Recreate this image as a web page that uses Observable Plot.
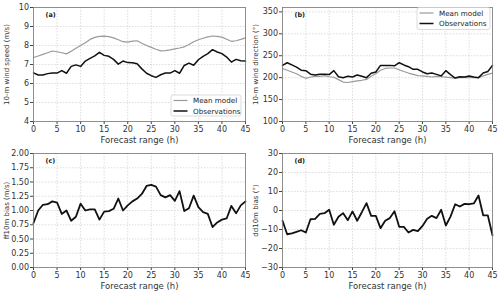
<!DOCTYPE html>
<html>
<head>
<meta charset="utf-8">
<script src="https://cdn.jsdelivr.net/npm/d3@7"></script>
<script src="https://cdn.jsdelivr.net/npm/@observablehq/plot@0.6"></script>
<style>
  body { margin: 0; background: white; }
  #grid { display: flex; flex-wrap: wrap; width: 500px; }
  #grid svg { display: block; }
</style>
</head>
<body>
<div id="grid"></div>
<script>
const hours = d3.range(0, 46);
const xTicks = [0, 5, 10, 15, 20, 25, 30, 35, 40, 45];

const speedModel = [7.37,7.45,7.53,7.62,7.71,7.67,7.62,7.56,7.70,7.86,
  8.00,8.15,8.32,8.43,8.48,8.49,8.47,8.40,8.30,8.20,
  8.18,8.23,8.25,8.12,8.00,7.90,7.80,7.72,7.73,7.77,
  7.82,7.87,7.93,8.05,8.20,8.30,8.38,8.45,8.50,8.48,
  8.44,8.33,8.22,8.25,8.32,8.40];
const speedObs = [6.56,6.45,6.45,6.52,6.55,6.55,6.68,6.54,6.90,6.98,
  6.90,7.18,7.32,7.45,7.64,7.48,7.43,7.27,7.02,7.18,
  7.10,7.09,7.04,6.77,6.54,6.41,6.32,6.46,6.55,6.55,
  6.68,6.54,6.95,7.07,6.96,7.25,7.43,7.57,7.78,7.66,
  7.57,7.39,7.13,7.27,7.20,7.18];
const dirModel = [221,217,213,209,203,198.5,201.5,203,203,204.5,
  202,201,195.5,190,189,191,192.5,194,196,203,
  209,217,221,222,222,218,214,210.5,207.5,204.5,
  204,203,201.5,203,202,201,200,199,200,200,
  200,200,200,204,207.5,210.5];
const dirObs = [228,234,229,224,217,216,208,206,208,208,
  207,216,202,200,203,201.5,206,203,200,210,
  213,228,228,228,227,234,229,225,219,219,
  213,209,210.5,207.5,204,216,207,199,202,201.5,
  204,201.5,200,210.5,214,228];
const ffBias = [0.78,1.00,1.10,1.11,1.16,1.14,0.94,1.00,0.82,0.89,
  1.12,1.00,1.02,1.02,0.84,0.98,0.99,1.03,1.21,1.00,
  1.09,1.16,1.21,1.29,1.43,1.45,1.42,1.27,1.23,1.27,
  1.17,1.34,0.99,1.04,1.26,1.06,0.97,0.94,0.71,0.79,
  0.84,0.86,1.08,0.95,1.09,1.16];
const ddBias = [-5.4,-12.5,-12,-11.2,-10.4,-11.6,-4.6,-4.4,-1.8,-1.4,
  0.4,-7.5,-3.3,-1.4,-5.1,-0.5,-5.4,-0.9,3.9,-2.8,
  -2.8,-9.3,-5.4,-4,-0.4,-8.6,-8.6,-11.6,-10.2,-10.9,
  -8.1,-4.4,-2.8,-4,0.4,-7.9,-3.2,3.3,2.1,3.5,
  3.3,3.7,7.9,-2.5,-2.6,-13];

const seriesNames = ["Mean model", "Observations"];
const seriesColors = ["#9a9a9a", "#111111"];

const FONT = "DejaVu Sans, sans-serif";

function panel(opts) {
  const {label, ylabel, yDomain, yTicks, yFormat, lines, mL, mR, legend} = opts;
  const marks = [
    Plot.gridX(xTicks, {stroke: "#cfcfcf", strokeOpacity: 1, strokeDasharray: "1.5,1.5", strokeWidth: 0.7}),
    Plot.gridY(yTicks, {stroke: "#cfcfcf", strokeOpacity: 1, strokeDasharray: "1.5,1.5", strokeWidth: 0.7}),
    Plot.axisX(xTicks, {tickSize: 3, tickPadding: 1.5, fontSize: 8, stroke: "#444", fill: "#333",
      label: "Forecast range (h)", labelAnchor: "center", labelArrow: "none", labelOffset: 21}),
    Plot.axisY(yTicks, {tickSize: 3, tickPadding: 1.5, fontSize: 8, stroke: "#444", fill: "#333", tickFormat: yFormat,
      label: ylabel, labelAnchor: "center", labelArrow: "none", labelOffset: 29})
  ];
  for (const ln of lines) {
    marks.push(Plot.line(hours, {x: d => d, y: (d, i) => ln.values[i],
      stroke: ln.color, strokeWidth: ln.width, strokeLinejoin: "round"}));
  }
  marks.push(Plot.frame({stroke: "#777", strokeWidth: 0.8}));
  marks.push(Plot.text([label], {frameAnchor: "top-left", dx: 12, dy: 5, fontWeight: "bold", fontSize: 6.5, fill: "#222"}));

  const svg = Plot.plot({
    width: 250, height: 146,
    marginLeft: mL, marginRight: mR, marginTop: 7, marginBottom: 25,
    style: {fontFamily: FONT, fontSize: "9px", color: "#333", background: "white"},
    x: {domain: [0, 45]},
    y: {domain: yDomain},
    marks
  });
  svg.querySelectorAll("[aria-label='y-axis label'] text").forEach(t => t.setAttribute("font-size", "7"));
  svg.querySelectorAll("[aria-label='x-axis label'] text").forEach(t => t.setAttribute("font-size", "8.5"));

  if (legend) {
    const g = d3.select(svg).append("g").attr("font-family", FONT).attr("font-size", 7.2)
      .attr("fill", "#222").attr("text-anchor", "start");
    g.append("rect").attr("x", legend.x).attr("y", legend.y).attr("width", legend.w).attr("height", legend.h)
      .attr("rx", 2).attr("fill", "white").attr("stroke", "#cccccc").attr("stroke-width", 0.7);
    seriesNames.forEach((name, i) => {
      const yy = legend.y + 5.5 + i * 10.5;
      g.append("line").attr("x1", legend.x + 2.5).attr("x2", legend.x + 16.5).attr("y1", yy).attr("y2", yy)
        .attr("stroke", seriesColors[i]).attr("stroke-width", i === 0 ? 1.2 : 1.5);
      g.append("text").attr("x", legend.x + 22).attr("y", yy).attr("dy", "0.35em")
        .attr("text-anchor", "start").text(name);
    });
  }
  return svg;
}

const grid = document.getElementById("grid");
grid.append(panel({
  label: "(a)", ylabel: "10-m wind speed (m/s)", yDomain: [4, 10], yTicks: [4,5,6,7,8,9,10],
  yFormat: d3.format("d"), mL: 33, mR: 5,
  lines: [{values: speedModel, color: seriesColors[0], width: 1.2}, {values: speedObs, color: seriesColors[1], width: 1.5}],
  legend: {x: 171, y: 95, w: 70, h: 21}
}));
grid.append(panel({
  label: "(b)", ylabel: "10-m wind direction (°)", yDomain: [100, 360], yTicks: [100,150,200,250,300,350],
  yFormat: d3.format("d"), mL: 32, mR: 8,
  lines: [{values: dirModel, color: seriesColors[0], width: 1.2}, {values: dirObs, color: seriesColors[1], width: 1.5}],
  legend: {x: 167, y: 7.5, w: 73, h: 22}
}));
grid.append(panel({
  label: "(c)", ylabel: "ff10m bias (m/s)", yDomain: [0, 2], yTicks: [0,0.25,0.5,0.75,1,1.25,1.5,1.75,2],
  yFormat: d3.format(".2f"), mL: 33, mR: 5,
  lines: [{values: ffBias, color: "#111", width: 1.8}]
}));
grid.append(panel({
  label: "(d)", ylabel: "dd10m bias (°)", yDomain: [-30, 30], yTicks: [-30,-20,-10,0,10,20,30],
  yFormat: d3.format("d"), mL: 32, mR: 8,
  lines: [{values: ddBias, color: "#111", width: 1.8}]
}));
</script>
</body>
</html>
